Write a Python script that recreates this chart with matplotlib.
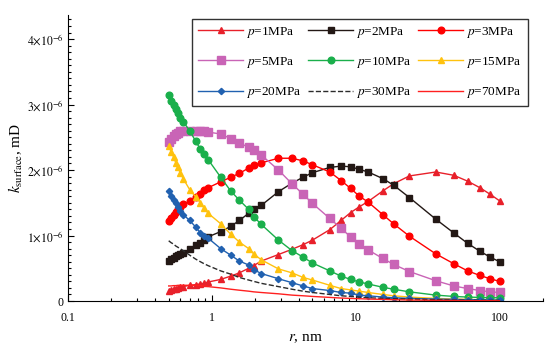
import numpy as np
import matplotlib
matplotlib.use('Agg')
import matplotlib.pyplot as plt
from matplotlib.ticker import FixedLocator, MultipleLocator, LogLocator, NullFormatter

plt.rcParams['font.family'] = ['Liberation Serif', 'DejaVu Serif']
plt.rcParams['mathtext.fontset'] = 'stix'

# pore radius, nm
r = [0.5, 0.52, 0.54, 0.56, 0.58, 0.6, 0.63, 0.7, 0.77, 0.83, 0.88, 0.94,
     1.15, 1.35, 1.55, 1.8, 1.95, 2.2, 2.9, 3.6, 4.3, 5.0, 6.6, 7.9, 9.2,
     10.6, 12.2, 15.4, 18.3, 23.6, 36, 48, 60, 73, 86, 100]

# k_surface in units of 1e-6 mD
k_p1 = [0.16, 0.17, 0.18, 0.19, 0.20, 0.21, 0.22, 0.24, 0.25, 0.26, 0.27, 0.29,
        0.33, 0.38, 0.43, 0.50, 0.54, 0.61, 0.71, 0.79, 0.86, 0.93, 1.09, 1.23, 1.35,
        1.44, 1.52, 1.68, 1.79, 1.91, 1.97, 1.92, 1.83, 1.73, 1.63, 1.53]
k_p2 = [0.61, 0.64, 0.66, 0.68, 0.70, 0.72, 0.74, 0.79, 0.85, 0.89, 0.93, 0.98,
        1.06, 1.14, 1.23, 1.34, 1.41, 1.46, 1.67, 1.80, 1.89, 1.96, 2.04, 2.06, 2.05,
        2.01, 1.97, 1.87, 1.77, 1.58, 1.25, 1.04, 0.88, 0.76, 0.67, 0.60]
k_p3 = [1.22, 1.27, 1.32, 1.36, 1.40, 1.44, 1.48, 1.52, 1.59, 1.64, 1.69, 1.73,
        1.82, 1.89, 1.95, 2.03, 2.07, 2.11, 2.18, 2.18, 2.14, 2.08, 1.97, 1.84, 1.72,
        1.60, 1.51, 1.32, 1.18, 0.99, 0.72, 0.57, 0.46, 0.39, 0.34, 0.30]
k_p5 = [2.43, 2.48, 2.52, 2.55, 2.57, 2.59, 2.60, 2.60, 2.60, 2.60, 2.59, 2.58,
        2.55, 2.48, 2.41, 2.35, 2.30, 2.23, 2.00, 1.79, 1.63, 1.49, 1.26, 1.11, 0.98,
        0.87, 0.78, 0.65, 0.56, 0.45, 0.31, 0.23, 0.19, 0.16, 0.14, 0.13]
k_p10 = [3.14, 3.06, 3.00, 2.93, 2.87, 2.80, 2.74, 2.60, 2.44, 2.32, 2.24, 2.16,
         1.89, 1.68, 1.54, 1.40, 1.29, 1.17, 0.93, 0.77, 0.67, 0.58, 0.46, 0.38, 0.33,
         0.29, 0.26, 0.21, 0.18, 0.14, 0.09, 0.07, 0.06, 0.055, 0.05, 0.05]
k_p15 = [2.36, 2.28, 2.20, 2.11, 2.04, 1.96, 1.87, 1.70, 1.59, 1.50, 1.42, 1.34,
         1.18, 1.02, 0.90, 0.80, 0.72, 0.63, 0.49, 0.43, 0.36, 0.32, 0.24, 0.19, 0.17,
         0.15, 0.13, 0.10, 0.08, 0.06, 0.04, 0.03, 0.025, 0.02, 0.02, 0.02]
k_p20 = [1.68, 1.60, 1.54, 1.49, 1.43, 1.38, 1.32, 1.23, 1.13, 1.04, 1.00, 0.96,
         0.80, 0.70, 0.61, 0.55, 0.48, 0.42, 0.34, 0.28, 0.23, 0.19, 0.16, 0.13, 0.12,
         0.09, 0.08, 0.06, 0.05, 0.04, 0.03, 0.025, 0.02, 0.02, 0.015, 0.015]
k_p30 = [0.92, 0.89, 0.87, 0.84, 0.82, 0.80, 0.77, 0.70, 0.64, 0.60, 0.57, 0.54,
         0.46, 0.41, 0.36, 0.32, 0.30, 0.27, 0.22, 0.18, 0.15, 0.13, 0.10, 0.08, 0.07,
         0.06, 0.05, 0.04, 0.035, 0.03, 0.02, 0.015, 0.012, 0.01, 0.01, 0.01]
k_p70 = [0.23, 0.23, 0.235, 0.235, 0.24, 0.24, 0.24, 0.24, 0.24, 0.235, 0.23, 0.22,
         0.20, 0.18, 0.165, 0.15, 0.14, 0.13, 0.11, 0.09, 0.08, 0.07, 0.055, 0.045, 0.04,
         0.035, 0.03, 0.025, 0.02, 0.015, 0.01, 0.008, 0.006, 0.005, 0.005, 0.004]

labels = ['1', '2', '3', '5', '10', '15', '20', '30', '70']
series = [k_p1, k_p2, k_p3, k_p5, k_p10, k_p15, k_p20, k_p30, k_p70]
colors = ['#e8202a', '#231815', '#ff0000', '#c964b6', '#1aaf4b', '#ffc20e',
          '#2161b0', '#2b2b2b', '#ff2020']
markers = ['^', 's', 'o', 's', 'o', '^', 'D', None, None]
msizes = [4.5, 4.4, 4.8, 5.4, 4.8, 4.8, 3.2, 0, 0]
styles = ['-', '-', '-', '-', '-', '-', '-', '--', '-']

fig = plt.figure(figsize=(5.5, 3.49), dpi=100)
ax = fig.add_axes([0.124, 0.1375, 0.863, 0.82])

handles = []
for lab, k, c, m, ms, ls in zip(labels, series, colors, markers, msizes, styles):
    h, = ax.plot(r, np.array(k) * 1e-6, color=c, marker=m, markersize=ms, ls=ls,
                 lw=1.0, label=r'$\mathit{p}$=' + lab + 'MPa')
    handles.append(h)

ax.set_xscale('log')
ax.set_xlim(0.1, 200)
ax.set_ylim(0, 4.37e-6)

ax.xaxis.set_major_locator(FixedLocator([0.1, 1, 10, 100]))
ax.set_xticklabels(['0.1', '1', '10', '100'])
ax.xaxis.set_minor_locator(LogLocator(base=10, subs=np.arange(2, 10)))
ax.xaxis.set_minor_formatter(NullFormatter())

ax.yaxis.set_major_locator(FixedLocator([0, 1e-6, 2e-6, 3e-6, 4e-6]))
ax.set_yticklabels(['0'] + [r'$%d{\times}10^{-6}$' % i for i in range(1, 5)])
ax.yaxis.set_minor_locator(MultipleLocator(1e-7))

ax.spines['top'].set_visible(False)
ax.spines['right'].set_visible(False)
ax.tick_params(which='both', direction='in', labelsize=8.5, width=0.8)
ax.tick_params(which='major', length=4)
ax.tick_params(which='minor', length=2.5)
ax.tick_params(axis='x', pad=8)

ax.set_xlabel(r'$\mathit{r}$, nm', fontsize=11, labelpad=6)
ax.set_ylabel(r'$\mathit{k}_{\mathrm{surface}}$, mD', fontsize=11, labelpad=1)

# legend reads row by row: 1 2 3 / 5 10 15 / 20 30 70
order = [0, 3, 6, 1, 4, 7, 2, 5, 8]
leg = ax.legend([handles[i] for i in order], [handles[i].get_label() for i in order],
                ncol=3, loc='upper right', bbox_to_anchor=(0.968, 0.986),
                borderaxespad=0, fontsize=9.5, frameon=True, fancybox=False,
                edgecolor='black', handlelength=3.4, columnspacing=0.5,
                labelspacing=1.15, handletextpad=0.25, borderpad=0.45)
leg.get_frame().set_linewidth(1.0)

fig.savefig('out.png', dpi=100)
